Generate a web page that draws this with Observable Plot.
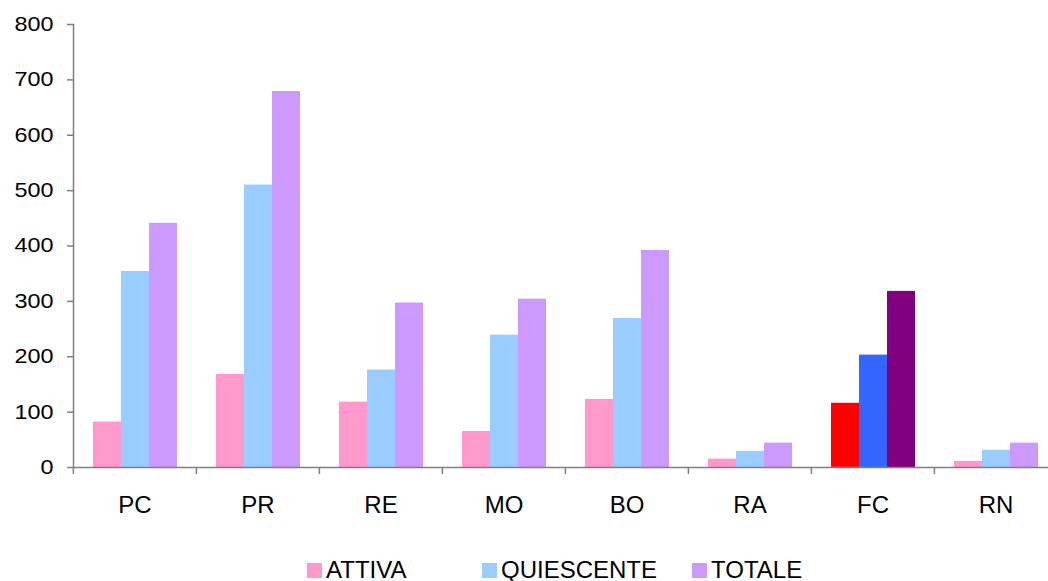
<!DOCTYPE html>
<html>
<head>
<meta charset="utf-8">
<script src="https://cdn.jsdelivr.net/npm/d3@7"></script>
<script src="https://cdn.jsdelivr.net/npm/@observablehq/plot@0.6"></script>
<style>
  html, body { margin: 0; padding: 0; background: #fff; }
  body { width: 1048px; height: 581px; overflow: hidden; position: relative; font-family: "Liberation Sans", Arial, sans-serif; }
  #chart svg { display: block; }
  .legend { position: absolute; top: 556px; left: 0; width: 1048px; height: 30px; }
  .item { position: absolute; top: 0; display: flex; align-items: center; font-size: 24px; color: #000; }
  .sw { width: 15px; height: 15px; margin-right: 4px; }
</style>
</head>
<body>
<div id="chart"></div>
<div class="legend" id="legend"></div>
<script>
const categories = ["PC", "PR", "RE", "MO", "BO", "RA", "FC", "RN"];
const series = ["ATTIVA", "QUIESCENTE", "TOTALE"];
const attiva = [82, 168, 118, 65, 123, 15, 116, 11];
const quiescente = [354, 510, 176, 239, 269, 29, 203, 31];
const totale = [441, 679, 297, 304, 392, 44, 318, 44];
const yTicks = [0, 100, 200, 300, 400, 500, 600, 700, 800];
const seriesColors = ["#FF99CC", "#99CCFF", "#CC99FF"];
const highlightCategory = "FC";
const highlightColors = ["#FF0000", "#3366FF", "#800080"];

const values = [attiva, quiescente, totale];
const data = [];
categories.forEach((c, i) => {
  series.forEach((s, k) => {
    data.push({
      cat: c,
      series: s,
      value: values[k][i],
      color: c === highlightCategory ? highlightColors[k] : seriesColors[k]
    });
  });
});

const W = 1048, H = 540;
const mLeft = 72, mTop = 24, zeroY = 467;
const step = 123.2;
const axisGray = "#7f7f7f";
const yTextStretch = 1.17;

const chart = Plot.plot({
  width: W,
  height: H,
  marginLeft: mLeft,
  marginRight: W - (mLeft + step * categories.length),
  marginTop: mTop,
  marginBottom: H - zeroY,
  style: { fontFamily: "'Liberation Sans', Arial, sans-serif", background: "#fff", overflow: "visible" },
  fx: { domain: categories, paddingInner: 0, paddingOuter: 0, label: null },
  x: { domain: series, paddingInner: 0, paddingOuter: 0.67, axis: null },
  y: { domain: [0, 800], label: null },
  marks: [
    Plot.barY(data, { fx: "cat", x: "series", y: "value", fill: "color", inset: 0 }),
    Plot.ruleY([0], { stroke: axisGray, strokeWidth: 1.5 }),
    Plot.frame({ anchor: "left", facetAnchor: "left", stroke: axisGray, strokeWidth: 1.5 }),
    Plot.axisY({ ticks: yTicks, tickSize: 6, tickPadding: 14, fontSize: 20, stroke: axisGray, fill: "#000", label: null, strokeWidth: 1.5 }),
    Plot.axisFx({ anchor: "bottom", tickSize: 7, tickFormat: () => "", dx: -step / 2, stroke: axisGray, strokeWidth: 1.5, label: null }),
    Plot.axisFx({ anchor: "bottom", tickSize: 0, tickPadding: 28, fontSize: 24, fill: "#000", label: null })
  ]
});
document.getElementById("chart").appendChild(chart);

// widen y-axis labels horizontally like the reference rendering
d3.select(chart).selectAll("g[aria-label='y-axis tick label'] text").each(function () {
  const t = this.getAttribute("transform") || "";
  this.setAttribute("transform", t + ` scale(${yTextStretch},1)`);
});

const legendPos = [307, 482, 692];
const legend = document.getElementById("legend");
series.forEach((s, k) => {
  const item = document.createElement("div");
  item.className = "item";
  item.style.left = legendPos[k] + "px";
  const sw = document.createElement("div");
  sw.className = "sw";
  sw.style.background = seriesColors[k];
  const t = document.createElement("span");
  t.textContent = s;
  item.appendChild(sw);
  item.appendChild(t);
  legend.appendChild(item);
});
</script>
</body>
</html>
